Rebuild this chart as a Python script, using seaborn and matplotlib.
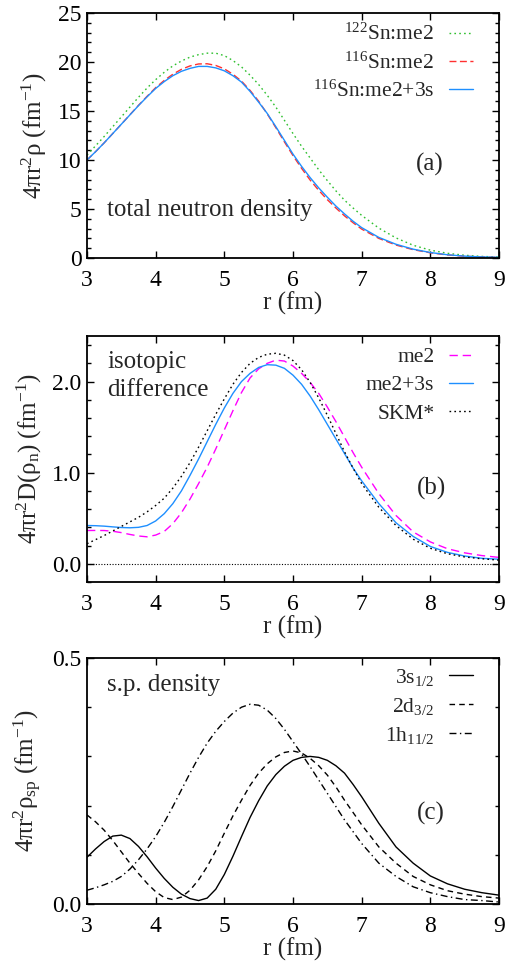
import numpy as np
import pandas as pd
import matplotlib
matplotlib.use("Agg")
import matplotlib.pyplot as plt
from matplotlib.ticker import MultipleLocator
import seaborn as sns

# ---------------- data ----------------
r = [3.0, 3.125, 3.25, 3.375, 3.5, 3.625, 3.75, 3.875,
     4.0, 4.125, 4.25, 4.375, 4.5, 4.625, 4.75, 4.875,
     5.0, 5.125, 5.25, 5.375, 5.5, 5.625, 5.75, 5.875,
     6.0, 6.125, 6.25, 6.375, 6.5, 6.625, 6.75, 6.875,
     7.0, 7.25, 7.5, 7.75, 8.0, 8.25, 8.5, 8.75, 9.0]

# panel (a): total neutron density
sn122_me2 = [10.5, 11.45, 12.4, 13.4, 14.4, 15.4, 16.4, 17.35,
             18.2, 18.95, 19.6, 20.1, 20.5, 20.75, 20.9, 20.9,
             20.65, 20.15, 19.5, 18.65, 17.7, 16.6, 15.4, 14.05,
             12.7, 11.4, 10.2, 9.0, 7.9, 6.85, 5.9, 5.1,
             4.35, 3.05, 2.05, 1.3, 0.8, 0.48, 0.28, 0.16, 0.1]
sn116_me2 = [10.0, 10.85, 11.75, 12.7, 13.65, 14.62, 15.58, 16.5,
             17.38, 18.12, 18.75, 19.25, 19.6, 19.8, 19.82, 19.65,
             19.3, 18.75, 18.05, 17.1, 16.0, 14.7, 13.3, 11.85,
             10.45, 9.15, 7.95, 6.9, 5.95, 5.1, 4.3, 3.6,
             2.95, 2.0, 1.32, 0.85, 0.53, 0.31, 0.18, 0.1, 0.06]
sn116_me2_3s = [10.0, 10.85, 11.75, 12.7, 13.65, 14.6, 15.55, 16.45,
                17.3, 18.0, 18.6, 19.05, 19.35, 19.55, 19.55, 19.4,
                19.1, 18.6, 17.95, 17.0, 15.9, 14.75, 13.4, 12.0,
                10.6, 9.35, 8.2, 7.15, 6.2, 5.3, 4.5, 3.75,
                3.1, 2.1, 1.4, 0.9, 0.56, 0.33, 0.19, 0.11, 0.07]
labels_a = [r"$^{122}$Sn:me2", r"$^{116}$Sn:me2", r"$^{116}$Sn:me2+3s"]

# panel (b): isotopic difference
diff_me2 = [0.365, 0.366, 0.365, 0.357, 0.342, 0.322, 0.305, 0.296,
            0.315, 0.355, 0.44, 0.56, 0.71, 0.88, 1.06, 1.26,
            1.47, 1.68, 1.88, 2.04, 2.14, 2.20, 2.235, 2.225,
            2.17, 2.09, 1.99, 1.87, 1.72, 1.56, 1.39, 1.22,
            1.06, 0.77, 0.53, 0.35, 0.24, 0.165, 0.12, 0.09, 0.07]
diff_me2_3s = [0.42, 0.418, 0.413, 0.405, 0.398, 0.395, 0.40, 0.42,
               0.47, 0.55, 0.66, 0.80, 0.97, 1.15, 1.34, 1.53,
               1.71, 1.87, 2.0, 2.09, 2.155, 2.185, 2.18, 2.145,
               2.07, 1.97, 1.84, 1.69, 1.53, 1.37, 1.21, 1.05,
               0.91, 0.66, 0.45, 0.30, 0.19, 0.125, 0.085, 0.06, 0.05]
diff_skm = [0.22, 0.265, 0.31, 0.36, 0.41, 0.46, 0.51, 0.57,
            0.64, 0.72, 0.83, 0.96, 1.11, 1.28, 1.46, 1.64,
            1.81, 1.97, 2.1, 2.2, 2.265, 2.3, 2.31, 2.29,
            2.23, 2.13, 1.99, 1.82, 1.63, 1.43, 1.23, 1.05,
            0.88, 0.62, 0.42, 0.27, 0.17, 0.11, 0.075, 0.055, 0.04]
labels_b = ["me2", "me2+3s", "SKM*"]

# panel (c): single-particle densities
sp_3s = [0.095, 0.112, 0.127, 0.138, 0.140, 0.133, 0.117, 0.096,
         0.073, 0.052, 0.034, 0.020, 0.011, 0.007, 0.012, 0.030,
         0.060, 0.097, 0.137, 0.176, 0.210, 0.240, 0.263, 0.280,
         0.292, 0.298, 0.300, 0.298, 0.292, 0.281, 0.266, 0.243,
         0.218, 0.164, 0.116, 0.083, 0.057, 0.041, 0.030, 0.023, 0.018]
sp_2d = [0.181, 0.167, 0.150, 0.129, 0.106, 0.083, 0.062, 0.042,
         0.025, 0.013, 0.009, 0.014, 0.028, 0.049, 0.076, 0.108,
         0.144, 0.179, 0.211, 0.241, 0.266, 0.285, 0.299, 0.308,
         0.311, 0.307, 0.296, 0.281, 0.262, 0.238, 0.211, 0.186,
         0.161, 0.116, 0.083, 0.056, 0.039, 0.027, 0.020, 0.015, 0.012]
sp_1h = [0.028, 0.033, 0.039, 0.046, 0.056, 0.071, 0.090, 0.112,
         0.137, 0.166, 0.198, 0.232, 0.266, 0.298, 0.327, 0.351,
         0.371, 0.388, 0.400, 0.406, 0.404, 0.394, 0.377, 0.355,
         0.330, 0.305, 0.279, 0.252, 0.225, 0.198, 0.171, 0.147,
         0.123, 0.083, 0.056, 0.035, 0.023, 0.015, 0.009, 0.007, 0.004]
labels_c = [r"3s$_{1/2}$", r"2d$_{3/2}$", r"1h$_{11/2}$"]

x_ticks = [3, 4, 5, 6, 7, 8, 9]

# ---------------- style ----------------
sns.set_style("ticks")
plt.rcParams["font.family"] = ["Liberation Serif", "DejaVu Serif"]
plt.rcParams["mathtext.fontset"] = "custom"
plt.rcParams["mathtext.rm"] = "Liberation Serif"
plt.rcParams["mathtext.it"] = "Liberation Serif"
plt.rcParams["mathtext.default"] = "regular"
plt.rcParams["axes.unicode_minus"] = False

FS_TICK = 17
FS_LAB = 18
FS_TXT = 18
FS_LEG = 15.5

fig = plt.figure(figsize=(5.07, 9.66), dpi=100)
left, width = 87 / 507, 412 / 507
ax_a = fig.add_axes([left, 1 - 258 / 966, width, 245 / 966])
ax_b = fig.add_axes([left, 1 - 582 / 966, width, 246 / 966])
ax_c = fig.add_axes([left, 1 - 904 / 966, width, 246 / 966])


def style_axes(ax, ylim, ymajor, yminor, yfmt):
    ax.set_xlim(3, 9)
    ax.set_ylim(*ylim)
    ax.set_xticks(x_ticks)
    ax.yaxis.set_major_locator(MultipleLocator(ymajor))
    ax.yaxis.set_minor_locator(MultipleLocator(yminor))
    ax.yaxis.set_major_formatter(plt.FormatStrFormatter(yfmt))
    ax.tick_params(which="both", direction="in", top=True, right=True,
                   labelsize=FS_TICK, colors="black", width=1.0)
    ax.tick_params(which="major", length=5)
    ax.tick_params(which="minor", length=3)
    ax.tick_params(axis="x", pad=9)
    ax.tick_params(axis="y", pad=4)
    for sp in ax.spines.values():
        sp.set_visible(True)
        sp.set_linewidth(1.3)
        sp.set_color("black")
    ax.set_xlabel("r (fm)", fontsize=FS_LAB, labelpad=0)


lw = 1.0
# ---- (a)
sns.lineplot(x=r, y=sn122_me2, ax=ax_a, color="#2fc02f", lw=lw,
             linestyle=(0, (1.2, 2.3)), label=labels_a[0])
sns.lineplot(x=r, y=sn116_me2, ax=ax_a, color="#ff3030", lw=lw,
             linestyle=(0, (5, 2.5)), label=labels_a[1])
sns.lineplot(x=r, y=sn116_me2_3s, ax=ax_a, color="#1e8fff", lw=lw,
             linestyle="-", label=labels_a[2])
style_axes(ax_a, (0, 25), 5, 1, "%d")
ax_a.set_ylabel(r"$4\pi r^{2}\rho$ (fm$^{-1}$)", fontsize=FS_LAB, labelpad=6)
ax_a.text(0.0485, 0.196, "total neutron density", transform=ax_a.transAxes,
          fontsize=FS_TXT, va="center", ha="left")
ax_a.text(0.832, 0.38, "(a)", transform=ax_a.transAxes, fontsize=FS_TXT,
          va="center", ha="center")

# ---- (b)
ax_b.axhline(0, color="black", lw=0.8, linestyle=(0, (1, 1.5)))
sns.lineplot(x=r, y=diff_me2, ax=ax_b, color="#ff00ff", lw=lw,
             linestyle=(0, (6, 3.5)), label=labels_b[0])
sns.lineplot(x=r, y=diff_me2_3s, ax=ax_b, color="#1e8fff", lw=lw,
             linestyle="-", label=labels_b[1])
sns.lineplot(x=r, y=diff_skm, ax=ax_b, color="black", lw=lw,
             linestyle=(0, (1.2, 2.3)), label=labels_b[2])
style_axes(ax_b, (-0.2, 2.5), 1.0, 0.2, "%.1f")
ax_b.set_ylabel(r"$4\pi r^{2}D(\rho_{n})$ (fm$^{-1}$)", fontsize=FS_LAB, labelpad=6)
ax_b.text(0.0485, 0.894, "isotopic", transform=ax_b.transAxes,
          fontsize=FS_TXT, va="center", ha="left")
ax_b.text(0.0485, 0.780, "difference", transform=ax_b.transAxes,
          fontsize=FS_TXT, va="center", ha="left")
ax_b.text(0.835, 0.382, "(b)", transform=ax_b.transAxes, fontsize=FS_TXT,
          va="center", ha="center")

# ---- (c)
sns.lineplot(x=r, y=sp_3s, ax=ax_c, color="black", lw=lw,
             linestyle="-", label=labels_c[0])
sns.lineplot(x=r, y=sp_2d, ax=ax_c, color="black", lw=lw,
             linestyle=(0, (4, 3)), label=labels_c[1])
sns.lineplot(x=r, y=sp_1h, ax=ax_c, color="black", lw=lw,
             linestyle=(0, (5, 2.5, 1, 2.5)), label=labels_c[2])
style_axes(ax_c, (0, 0.5), 0.5, 0.1, "%.1f")
ax_c.set_ylabel(r"$4\pi r^{2}\rho_{sp}$ (fm$^{-1}$)", fontsize=FS_LAB, labelpad=6)
ax_c.text(0.0485, 0.89, "s.p. density", transform=ax_c.transAxes,
          fontsize=FS_TXT, va="center", ha="left")
ax_c.text(0.835, 0.37, "(c)", transform=ax_c.transAxes, fontsize=FS_TXT,
          va="center", ha="center")

for ax, ytop, sp in ((ax_a, 0.955, 0.32), (ax_b, 0.955, 0.38), (ax_c, 0.965, 0.38)):
    h, l = ax.get_legend_handles_labels()
    ax.legend(h, l, loc="upper right", bbox_to_anchor=(0.937, ytop),
              frameon=False, markerfirst=False, fontsize=FS_LEG,
              handlelength=1.1, handletextpad=0.7, labelspacing=sp,
              borderpad=0, borderaxespad=0)

fig.savefig("out.png", dpi=100)
